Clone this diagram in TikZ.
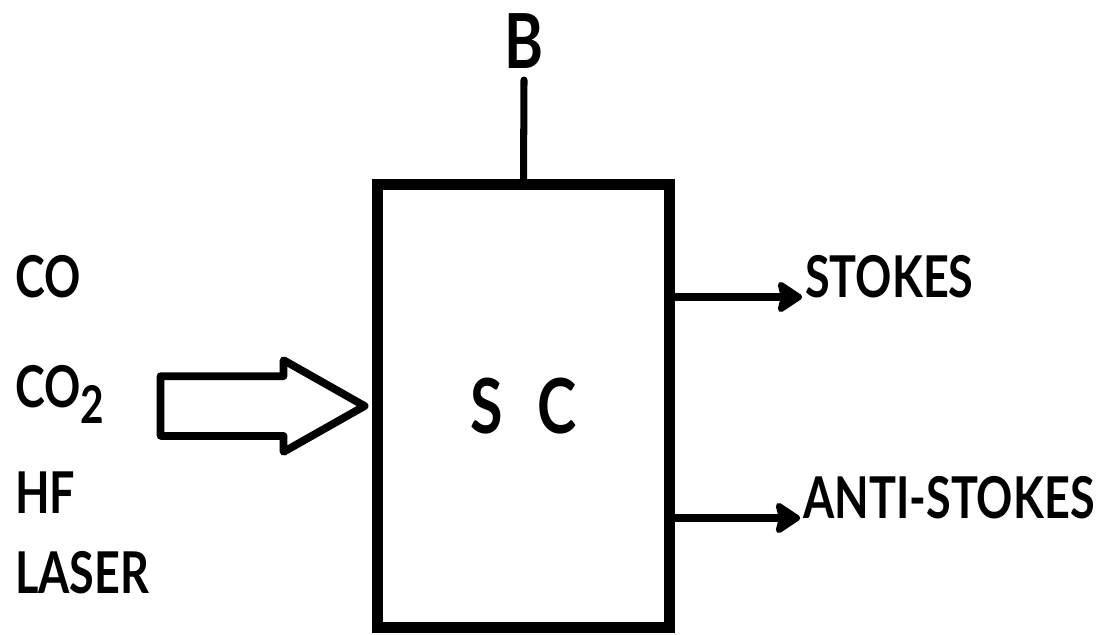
\documentclass[tikz,border=0pt]{standalone}
\usepackage{fontspec}
\newfontfamily\letterfont[FakeStretch=0.78]{Lato}
\usetikzlibrary{arrows.meta, positioning, calc, shapes.arrows}

\begin{document}
\begin{tikzpicture}[
    x=0.025cm, y=-0.025cm,
    lbl/.style={inner sep=0pt, anchor=base west, font=\letterfont\bfseries\fontsize{41}{41}\selectfont},
    big/.style={font=\letterfont\bfseries\fontsize{54}{54}\selectfont},
    outflow/.style={-{Stealth[length=20pt, width=26pt, inset=3pt, round]}, line width=5pt, shorten >=2pt},
    pumparrow/.style={single arrow, draw, line width=5.5pt, line join=round, inner xsep=0pt,
        inner ysep=0.65cm, single arrow head extend=0.4cm, single arrow tip angle=59,
        minimum height=5.1cm},
]
\useasboundingbox (0,0) rectangle (1108,634);

% --- celda SC ---
\node[draw, line width=7.8pt, minimum width=7.275cm, minimum height=11.05cm, big] (sc) at (523.5,406)
    {S\hspace{0.45em}C};

% campo B
\node[big, inner sep=0pt, outer sep=8.5pt, anchor=south] (bfield) at (524,80) {B};
\draw[line width=5pt, line cap=round] (sc.north) -- (bfield.south);

% --- laser de bombeo ---
\node[pumparrow, anchor=tip] (pump) at (sc.west) {};
\node[lbl] (co) at (15,297) {CO};
\node[lbl] (cotwo) at (15,407) {CO\raisebox{-12pt}{\fontsize{37}{37}\selectfont 2}};
\node[lbl] (hf) at (15,513) {HF};
\node[lbl] (laser) at (15,593) {LASER};

% --- salidas ---
\node[lbl] (stokes) at (805,297) {STOKES};
\node[lbl] (antistokes) at (803,518) {ANTI-STOKES};
\draw[outflow] (sc.east |- stokes.base west) -- (stokes.base west);
\draw[outflow] (sc.east |- antistokes.base west) -- (antistokes.base west);

\end{tikzpicture}
\end{document}
